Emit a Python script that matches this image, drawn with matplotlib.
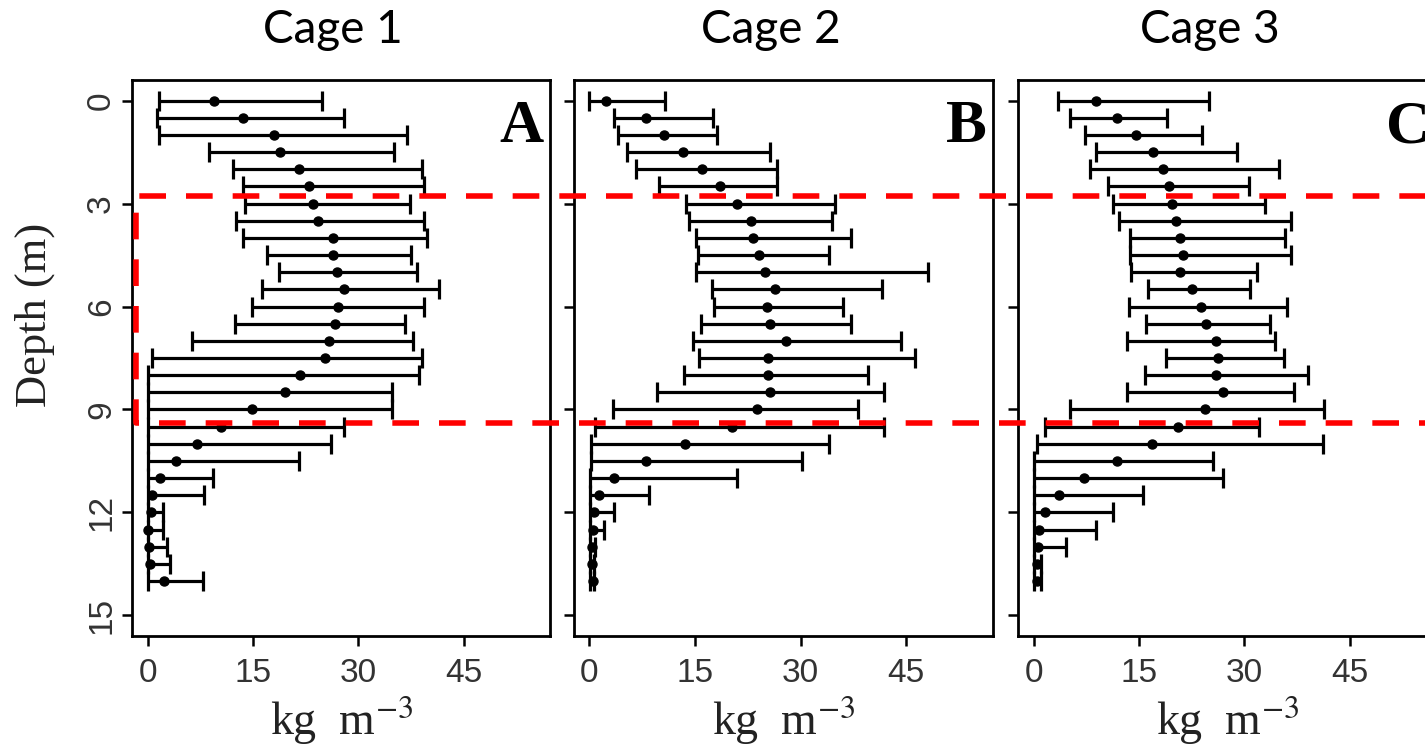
import numpy as np
import matplotlib
matplotlib.use("Agg")
import matplotlib.pyplot as plt
from matplotlib.lines import Line2D
from matplotlib import transforms

plt.rcParams["mathtext.fontset"] = "stix"
plt.rcParams["font.family"] = ["Liberation Sans", "DejaVu Sans"]

# sampling depths (m)
depth = [0.0, 0.5, 1.0, 1.5, 2.0, 2.5, 3.0, 3.5, 4.0, 4.5, 5.0, 5.5, 6.0, 6.5,
         7.0, 7.5, 8.0, 8.5, 9.0, 9.5, 10.0, 10.5, 11.0, 11.5, 12.0, 12.5,
         13.0, 13.5, 14.0]

# cage 1 biomass (kg m-3): mean and lower / upper bounds
cage1_mean = [9.5, 13.6, 18.0, 18.8, 21.6, 23.0, 23.6, 24.2, 26.4, 26.4, 26.9,
              28.0, 27.1, 26.7, 25.8, 25.3, 21.7, 19.5, 14.8, 10.4, 7.0, 4.0,
              1.7, 0.6, 0.4, 0.0, 0.2, 0.3, 2.3]
cage1_low = [1.6, 1.3, 1.6, 8.7, 12.2, 13.5, 13.8, 12.6, 13.5, 17.0, 18.7,
             16.3, 14.9, 12.4, 6.3, 0.6, 0.0, 0.0, 0.0, 0.0, 0.0, 0.0, 0.0,
             0.0, 0.0, 0.0, 0.0, 0.0, 0.0]
cage1_high = [24.8, 27.9, 37.0, 35.1, 39.0, 39.3, 37.3, 39.3, 39.8, 37.5, 38.4,
              41.5, 39.4, 36.6, 37.8, 39.0, 38.6, 34.8, 34.8, 28.0, 26.1, 21.6,
              9.3, 8.0, 2.2, 2.2, 2.8, 3.2, 7.8]

# cage 2
cage2_mean = [2.4, 8.1, 10.6, 13.3, 16.0, 18.5, 21.0, 23.0, 23.2, 24.1, 24.9,
              26.3, 25.2, 25.6, 27.9, 25.4, 25.4, 25.6, 23.8, 20.2, 13.6, 8.1,
              3.5, 1.4, 0.6, 0.5, 0.4, 0.4, 0.5]
cage2_low = [0.0, 3.5, 4.1, 5.3, 6.6, 9.9, 13.7, 14.2, 15.1, 15.4, 15.1, 17.4,
             17.7, 15.9, 14.7, 15.6, 13.5, 9.6, 3.3, 0.8, 0.2, 0.2, 0.1, 0.1,
             0.1, 0.1, 0.1, 0.1, 0.1]
cage2_high = [10.7, 17.6, 18.1, 25.7, 26.7, 26.6, 34.9, 34.5, 37.1, 34.0, 48.1,
              41.5, 36.0, 37.1, 44.3, 46.2, 39.6, 41.9, 38.1, 41.9, 34.0, 30.2,
              20.9, 8.5, 3.5, 2.1, 0.8, 0.7, 0.7]

# cage 3
cage3_mean = [8.8, 11.8, 14.5, 17.0, 18.4, 19.2, 19.7, 20.3, 20.8, 21.2, 20.8,
              22.5, 23.8, 24.5, 25.9, 26.3, 25.9, 26.9, 24.4, 20.6, 16.8, 11.8,
              7.2, 3.6, 1.6, 0.8, 0.6, 0.5, 0.5]
cage3_low = [3.4, 5.1, 7.3, 8.9, 8.0, 10.6, 11.3, 12.2, 13.7, 13.7, 13.8, 16.3,
             13.6, 16.0, 13.3, 18.8, 15.8, 13.3, 5.1, 1.6, 0.4, 0.1, 0.1, 0.1,
             0.1, 0.1, 0.1, 0.1, 0.1]
cage3_high = [25.0, 19.0, 24.0, 28.9, 35.0, 30.6, 33.0, 36.6, 35.8, 36.6, 31.8,
              30.8, 36.1, 33.6, 34.4, 35.7, 39.1, 37.1, 41.4, 32.1, 41.2, 25.5,
              27.0, 15.5, 11.3, 8.9, 4.6, 1.0, 1.0]

titles = ["Cage 1", "Cage 2", "Cage 3"]
letters = ["A", "B", "C"]
x_ticks = [0, 15, 30, 45]
y_ticks = [0, 3, 6, 9, 12, 15]

# depth band highlighted with the red box
band_top, band_bottom = 2.77, 9.38

cages = [
    (cage1_mean, cage1_low, cage1_high),
    (cage2_mean, cage2_low, cage2_high),
    (cage3_mean, cage3_low, cage3_high),
]

W, H = 1425, 756
fig = plt.figure(figsize=(W / 100, H / 100), dpi=100)

ax_boxes = [
    (132.3, 80, 550, 636),
    (574, 80, 992.7, 636),
    (1018.3, 80, 1436, 636),
]
title_x = [333, 771, 1210]

axes = []
for i, (mean, low, high) in enumerate(cages):
    x0, y0, x1, y1 = ax_boxes[i]
    ax = fig.add_axes([x0 / W, 1 - y1 / H, (x1 - x0) / W, (y1 - y0) / H])
    axes.append(ax)
    mean = np.array(mean)
    err = [mean - np.array(low), np.array(high) - mean]
    ax.errorbar(mean, depth, xerr=err, fmt="o", color="black", ms=6.5,
                elinewidth=2.3, capsize=7, capthick=2.3)

    ax.set_xlim(-2.2, 57.3)
    ax.set_ylim(15.6, -0.6)
    ax.set_xticks(x_ticks)
    ax.set_yticks(y_ticks)
    ax.tick_params(direction="out", length=7, width=1.8, color="black",
                   labelsize=24, labelcolor="#333333")
    ax.tick_params(axis="x", pad=9)
    ax.tick_params(axis="y", pad=4)
    if i == 0:
        for lbl in ax.get_yticklabels():
            lbl.set_rotation(90)
            lbl.set_va("center")
        ax.set_ylabel("Depth (m)", family="Liberation Serif", fontsize=32,
                      color="#222222")
        ax.yaxis.set_label_coords(-0.185, 0.577)
    else:
        ax.set_yticklabels([])
    for s in ax.spines.values():
        s.set_linewidth(2.0)
    ax.set_xlabel(r"kg  m$^{-3}$", family="Liberation Serif", fontsize=33,
                  color="#222222", labelpad=4)
    ax.text(0.985, 0.965, letters[i], transform=ax.transAxes, ha="right",
            va="top", family="Liberation Serif", weight="bold", fontsize=44)
    fig.text(title_x[i] / W, 1 - 30 / H, titles[i], family="Lato",
             fontsize=33, ha="center", va="center")

# red dashed box across the three panels
tr = transforms.blended_transform_factory(fig.transFigure, axes[0].transData)
box_x = [1.01, 135.7 / W, 135.7 / W, 1.01]
box_y = [band_top, band_top, band_bottom, band_bottom]
fig.add_artist(Line2D(box_x, box_y, transform=tr, color="#ff0000", lw=4,
                      linestyle=(0, (4.8, 3.6)), clip_on=False, zorder=10))

fig.savefig("out.png", dpi=100)
